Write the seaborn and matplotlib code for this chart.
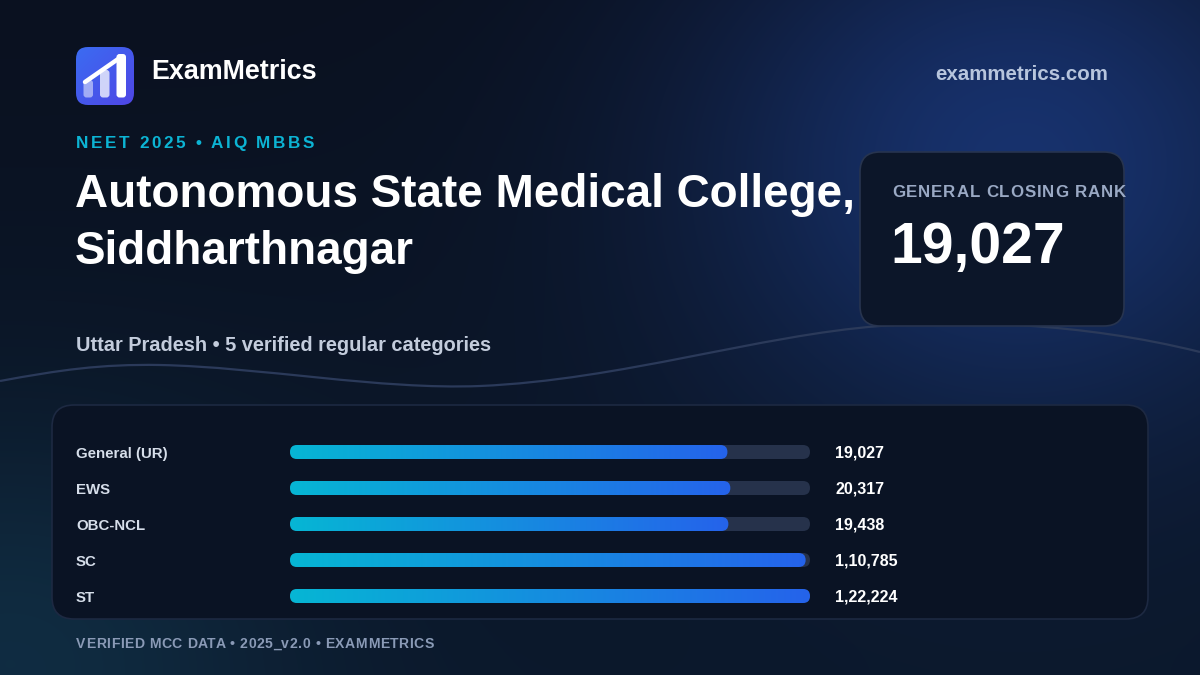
import numpy as np
import pandas as pd
import matplotlib
matplotlib.use("Agg")
import matplotlib.pyplot as plt
import seaborn as sns
from matplotlib.patches import FancyBboxPatch, PathPatch
from matplotlib.path import Path

# ==========================================
# DATA
# ==========================================
categories = ["General (UR)", "EWS", "OBC-NCL", "SC", "ST"]
closing_ranks = [19027, 20317, 19438, 110785, 122224]
rank_labels = ["19,027", "20,317", "19,438", "1,10,785", "1,22,224"]

brand = "ExamMetrics"
site = "exammetrics.com"
kicker = "NEET 2025 • AIQ MBBS"
title_lines = ["Autonomous State Medical College,", "Siddharthnagar"]
subtitle = "Uttar Pradesh • 5 verified regular categories"
card_label = "GENERAL CLOSING RANK"
card_value = "19,027"
footer = "VERIFIED MCC DATA • 2025_v2.0 • EXAMMETRICS"

# ==========================================
# STYLE
# ==========================================
sns.set_theme(style="white")
plt.rcParams["font.family"] = ["Liberation Sans", "DejaVu Sans"]

W, H = 1200, 675
fig = plt.figure(figsize=(12, 6.75), dpi=100)
renderer = fig.canvas.get_renderer()

# full-figure axes in pixel coordinates (y down)
bg = fig.add_axes([0, 0, 1, 1])
bg.axis("off")


def hex_rgb(h):
    h = h.lstrip("#")
    return np.array([int(h[i:i + 2], 16) for i in (0, 2, 4)]) / 255.0


# background with soft glows
yy, xx = np.mgrid[0:H, 0:W]
base = hex_rgb("#0a1120")
img = np.ones((H, W, 3)) * base
img += (hex_rgb("#0c1a2e") - base) * (yy / H)[..., None] * 0.8
g1 = np.exp(-(((xx - 1020) / 230.0) ** 2 + ((yy - 150) / 200.0) ** 2) / 2)
img += (hex_rgb("#17306a") - base) * g1[..., None]
g2 = np.exp(-(((xx - 10) / 200.0) ** 2 + ((yy - 650) / 160.0) ** 2) / 2)
img += (hex_rgb("#0f2a3c") - base) * g2[..., None] * 0.8
bg.imshow(np.clip(img, 0, 1), extent=[0, W, H, 0], aspect="auto", zorder=0)

# decorative wave
wave = Path(
    [(0, 381), (60, 370), (100, 364), (160, 365),
     (260, 367), (380, 390), (480, 386),
     (620, 380), (760, 335), (880, 326),
     (960, 320), (1080, 322), (1200, 352)],
    [Path.MOVETO] + [Path.CURVE4] * 12,
)
bg.add_patch(PathPatch(wave, fc="none", ec="#2b3a5a", lw=1.6, zorder=1))

# cards
bg.add_patch(FancyBboxPatch((860, 152), 264, 174, boxstyle="round,pad=0,rounding_size=20",
                            fc="#0c1629", ec="#27344f", lw=1.2, zorder=2))
bg.add_patch(FancyBboxPatch((52, 405), 1096, 214, boxstyle="round,pad=0,rounding_size=22",
                            fc="#0a1324", ec="#1d2942", lw=1.2, zorder=2))

# logo
logo = FancyBboxPatch((76, 47), 58, 58, boxstyle="round,pad=0,rounding_size=12",
                      fc="none", ec="none", zorder=3)
bg.add_patch(logo)
lg = np.linspace(0, 1, 64)
diag = (lg[None, :] + lg[:, None]) / 2
logo_img = hex_rgb("#3b6cf2") * (1 - diag[..., None]) + hex_rgb("#4f46e5") * diag[..., None]
li = bg.imshow(logo_img, extent=[76, 134, 105, 47], aspect="auto", zorder=3)
li.set_clip_path(logo)
for x0, top, a in [(83.5, 80, 0.5), (100, 70, 0.75), (116.5, 54, 1.0)]:
    bg.add_patch(FancyBboxPatch((x0, top), 9.5, 97.5 - top, boxstyle="round,pad=0,rounding_size=3",
                                fc="white", ec="none", alpha=a, zorder=4))
bg.plot([85, 121], [82, 57], color="white", lw=3.2, solid_capstyle="round", zorder=5)


def text_width(s, **kw):
    t = bg.text(0, 0, s, **kw)
    w = t.get_window_extent(renderer).width
    t.remove()
    return w


def tracked(x, y, s, spacing, **kw):
    # letter-spaced text, one glyph at a time (ink-left of each glyph)
    for i, ch in enumerate(s):
        if ch == " ":
            continue
        off = text_width(s[:i + 1], **kw) - text_width(ch, **kw) if i else 0
        bg.text(x + off + i * spacing, y, ch, **kw)


bold = dict(weight="bold", va="baseline", zorder=6)

# header
bg.text(151, 79, brand, fontsize=19.4, color="white", **bold)
bg.text(1108, 80, site, fontsize=14.8, color="#b7c5dd", ha="right", **bold)
tracked(76, 148, kicker, 2.6, fontsize=12.3, color="#0cb4d4", **bold)
for line, yb in zip(title_lines, [207, 264]):
    bg.text(75, yb, line, fontsize=33, color="white", **bold)
bg.text(76, 351, subtitle, fontsize=14.4, color="#c3ccdc", **bold)

# closing rank card
tracked(892, 197, card_label, 0.9, fontsize=12.2, color="#9aa9c4", **bold)
bg.text(890, 263, card_value, fontsize=41, color="white", **bold)

tracked(76, 648, footer, 0.55, fontsize=10.1, color="#8a9ab6", **bold)

# ==========================================
# BARS (log scale on rank)
# ==========================================
row_px = 36
ax = fig.add_axes([290 / W, 1 - 614 / H, 520 / W, 5 * row_px / H])
df = pd.DataFrame({"category": categories, "rank": closing_ranks})
sns.barplot(data=df, x="rank", y="category", orient="h", ax=ax,
            width=14 / row_px, color="#2563eb")
ax.set_xscale("log")
ax.set_xlim(1, max(closing_ranks))
ax.set_ylim(len(categories) - 0.5, -0.5)
ax.axis("off")
ax.patch.set_alpha(0)

bg.set_xlim(0, W)
bg.set_ylim(H, 0)
to_bg = ax.transData + bg.transData.inverted()
left_bg = (ax.transAxes + bg.transData.inverted()).transform((0, 0))[0]
right_bg = (ax.transAxes + bg.transData.inverted()).transform((1, 0))[0]

grad = np.linspace(0, 1, 256)[None, :, None]
grad_img = hex_rgb("#06b6d4") * (1 - grad) + hex_rgb("#2563eb") * grad

for i, p in enumerate(ax.patches[:len(categories)]):
    p.set_visible(False)
    yc = p.get_y() + p.get_height() / 2
    v = p.get_width()
    (_, y_top), = to_bg.transform([(1, yc - p.get_height() / 2)])
    (_, y_bot), = to_bg.transform([(1, yc + p.get_height() / 2)])
    (x_end, y_mid), = to_bg.transform([(v, yc)])
    top, hgt = min(y_top, y_bot), abs(y_bot - y_top)
    track = FancyBboxPatch((left_bg, top), right_bg - left_bg, hgt,
                           boxstyle=f"round,pad=0,rounding_size={hgt / 2}",
                           fc="#26324b", ec="none", zorder=3)
    bg.add_patch(track)
    fill = FancyBboxPatch((left_bg, top), x_end - left_bg, hgt,
                          boxstyle=f"round,pad=0,rounding_size={hgt / 2}",
                          fc="none", ec="none", zorder=4)
    bg.add_patch(fill)
    gi = bg.imshow(grad_img, extent=[left_bg, x_end, top + hgt, top], aspect="auto", zorder=4)
    gi.set_clip_path(fill)
    bg.text(76, y_mid + 6, categories[i], fontsize=10.8, color="#d6deea", **bold)
    bg.text(835, y_mid + 6, rank_labels[i], fontsize=11.5, color="white", **bold)

bg.set_xlim(0, W)
bg.set_ylim(H, 0)
fig.savefig("out.png", dpi=100, facecolor="#0a1120")
